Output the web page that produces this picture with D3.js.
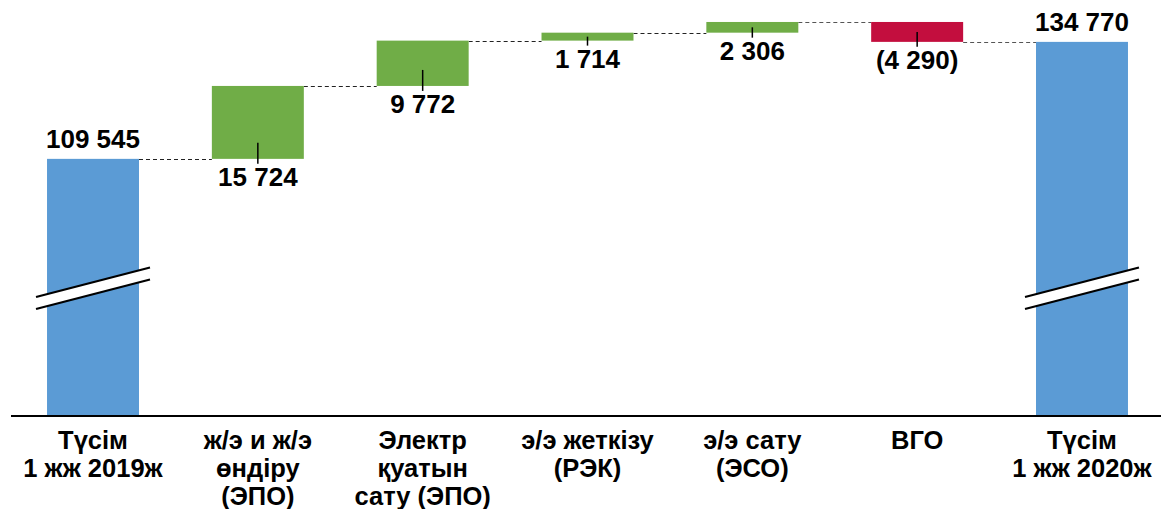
<!DOCTYPE html>
<html>
<head>
<meta charset="utf-8">
<script src="https://cdn.jsdelivr.net/npm/d3@7/dist/d3.min.js"></script>
<style>
  html, body { margin: 0; padding: 0; background: #fff; }
  svg { display: block; }
  text { font-family: "Liberation Sans", Arial, sans-serif; font-weight: bold; fill: #000; }
</style>
</head>
<body>
<svg id="chart" width="1161" height="509"></svg>
<script>
// ---- data ----
const categories = [
  ["Түсім", "1 жж 2019ж"],
  ["ж/э и ж/э", "өндіру", "(ЭПО)"],
  ["Электр", "қуатын", "сату (ЭПО)"],
  ["э/э жеткізу", "(РЭК)"],
  ["э/э сату", "(ЭСО)"],
  ["ВГО"],
  ["Түсім", "1 жж 2020ж"]
];
const values = [109545, 15724, 9772, 1714, 2306, -4290, 134770];
const kinds = ["total", "delta", "delta", "delta", "delta", "delta", "total"];
const colors = { total: "#5B9BD5", up: "#70AD47", down: "#C30E3E" };

// ---- layout ----
const W = 1161, H = 509;
const baseY = 416;
const svg = d3.select("#chart");

const x = d3.scaleBand()
  .domain(d3.range(values.length))
  .range([10.6, 1164.4])
  .paddingInner(0.442)
  .paddingOuter(0.221);

const y = d3.scaleLinear().domain([54100, 143800]).range([baseY, 0]);

// compute waterfall segments
let running = 0;
const segs = values.map((v, i) => {
  let lo, hi, end;
  if (kinds[i] === "total") {
    lo = y.domain()[0]; hi = v; end = v; running = v;
  } else {
    const start = running;
    end = start + v;
    lo = Math.min(start, end); hi = Math.max(start, end);
    running = end;
  }
  return { i, v, lo, hi, end, kind: kinds[i] };
});

const fmtNum = n => d3.format(",")(Math.abs(n)).replace(/,/g, " ");
const fmt = n => n < 0 ? "(" + fmtNum(n) + ")" : fmtNum(n);

// connectors
for (let k = 0; k < segs.length - 1; k++) {
  const yy = Math.round(y(segs[k].end)) + 0.5;
  svg.append("line")
    .attr("x1", x(k) + x.bandwidth()).attr("x2", x(k + 1))
    .attr("y1", yy).attr("y2", yy)
    .attr("stroke", k >= 4 ? "#555" : "#222").attr("stroke-width", 1.2)
    .attr("stroke-dasharray", "4,3");
}

// bars
svg.selectAll("rect.bar").data(segs).enter().append("rect")
  .attr("class", "bar")
  .attr("x", d => x(d.i))
  .attr("width", x.bandwidth())
  .attr("y", d => y(d.hi))
  .attr("height", d => y(d.lo) - y(d.hi))
  .attr("fill", d => d.kind === "total" ? colors.total : (d.v >= 0 ? colors.up : colors.down));

// break marks on total bars
segs.filter(d => d.kind === "total").forEach(d => {
  const x0 = x(d.i) - 11, x1 = x(d.i) + x.bandwidth() + 11;
  const yL = 297, yR = 267.5, gap = 12;
  svg.append("polygon")
    .attr("points", `${x0},${yL} ${x1},${yR} ${x1},${yR + gap} ${x0},${yL + gap}`)
    .attr("fill", "#fff");
  [0, gap].forEach(o => {
    svg.append("line")
      .attr("x1", x0).attr("y1", yL + o).attr("x2", x1).attr("y2", yR + o)
      .attr("stroke", "#000").attr("stroke-width", 2.2);
  });
});

// axis baseline
svg.append("line")
  .attr("x1", 11).attr("x2", W).attr("y1", baseY).attr("y2", baseY)
  .attr("stroke", "#000").attr("stroke-width", 2);

// value labels
segs.forEach(d => {
  const cx = x(d.i) + x.bandwidth() / 2;
  if (d.kind === "total") {
    svg.append("text")
      .attr("x", cx).attr("y", y(d.hi) - 11)
      .attr("text-anchor", "middle").attr("font-size", 26)
      .text(fmt(d.v));
  } else {
    const top = y(d.hi), bot = y(d.lo);
    const start = Math.max((top + bot) / 2, bot - 16);
    svg.append("line")
      .attr("x1", cx).attr("x2", cx).attr("y1", start).attr("y2", bot + 5)
      .attr("stroke", "#000").attr("stroke-width", 1.5);
    svg.append("text")
      .attr("x", cx).attr("y", bot + 27)
      .attr("text-anchor", "middle").attr("font-size", 26)
      .text(fmt(d.v));
  }
});

// category labels
categories.forEach((lines, i) => {
  const t = svg.append("text")
    .attr("x", x(i) + x.bandwidth() / 2)
    .attr("y", 449)
    .attr("text-anchor", "middle")
    .attr("font-size", 25.5);
  lines.forEach((ln, j) => {
    t.append("tspan")
      .attr("x", x(i) + x.bandwidth() / 2)
      .attr("dy", j === 0 ? 0 : 28)
      .text(ln);
  });
});
</script>
</body>
</html>
